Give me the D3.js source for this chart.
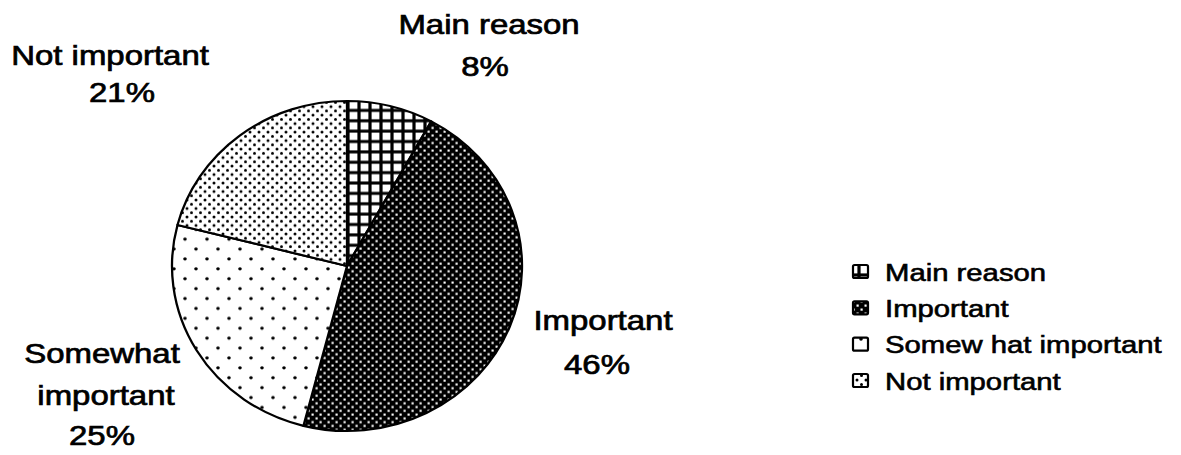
<!DOCTYPE html>
<html>
<head>
<meta charset="utf-8">
<script src="https://cdn.jsdelivr.net/npm/d3@7"></script>
<style>
  html, body { margin: 0; padding: 0; background: #fff; }
  svg { display: block; }
  text { font-family: "Liberation Sans", Arial, sans-serif; fill: #000; }
</style>
</head>
<body>
<svg id="chart" width="1181" height="455"></svg>
<script>
// ---- data ----
const categories = ["Main reason", "Important", "Somewhat important", "Not important"];
const values = [8, 46, 25, 21];
const sliceLabels = [["Main reason", "8%"], ["Important", "46%"], ["Somewhat", "important", "25%"], ["Not important", "21%"]];
const legendLabels = ["Main reason", "Important", "Somew hat important", "Not important"];
const patternIds = ["pGrid", "pDarkDots", "pSparseDots", "pDenseDots"];

// ---- layout ----
const cx = 347, cy = 266, R = 175, yScale = 0.943;
const SX = 1.22; // horizontal stretch of the scanned text

const svg = d3.select("#chart");
const defs = svg.append("defs");

// grid (white squares on black)
const g1 = defs.append("pattern").attr("id", "pGrid").attr("patternUnits", "userSpaceOnUse")
  .attr("width", 11).attr("height", 11).attr("x", 1).attr("y", 0);
g1.append("rect").attr("width", 11).attr("height", 11).attr("fill", "#000");
g1.append("rect").attr("x", 1.6).attr("y", 1.6).attr("width", 7.8).attr("height", 7.8).attr("fill", "#fff");

// black with white dots
const g2 = defs.append("pattern").attr("id", "pDarkDots").attr("patternUnits", "userSpaceOnUse")
  .attr("width", 8).attr("height", 8);
g2.append("rect").attr("width", 8).attr("height", 8).attr("fill", "#000");
g2.append("rect").attr("x", 0.5).attr("y", 0.5).attr("width", 2.2).attr("height", 2.2).attr("fill", "#fff");
g2.append("rect").attr("x", 4.5).attr("y", 4.5).attr("width", 2.2).attr("height", 2.2).attr("fill", "#fff");

// white with sparse black dots
const g3 = defs.append("pattern").attr("id", "pSparseDots").attr("patternUnits", "userSpaceOnUse")
  .attr("width", 22).attr("height", 21);
g3.append("rect").attr("width", 22).attr("height", 21).attr("fill", "#fff");
g3.append("circle").attr("cx", 3).attr("cy", 3).attr("r", 1.8).attr("fill", "#000");
g3.append("circle").attr("cx", 14).attr("cy", 13.5).attr("r", 1.8).attr("fill", "#000");

// white with dense black dots
const g4 = defs.append("pattern").attr("id", "pDenseDots").attr("patternUnits", "userSpaceOnUse")
  .attr("width", 9).attr("height", 9);
g4.append("rect").attr("width", 9).attr("height", 9).attr("fill", "#fff");
g4.append("circle").attr("cx", 2).attr("cy", 2).attr("r", 1.5).attr("fill", "#000");
g4.append("circle").attr("cx", 6.5).attr("cy", 6.5).attr("r", 1.5).attr("fill", "#000");

// ---- pie ----
const pie = d3.pie().sort(null).value(d => d).startAngle(0).endAngle(2 * Math.PI);
const arc = d3.arc().innerRadius(0).outerRadius(R);
const arcs = pie(values);

const pg = svg.append("g").attr("transform", `translate(${cx},${cy}) scale(1,${yScale})`);
pg.selectAll("path").data(arcs).join("path")
  .attr("d", arc)
  .attr("fill", (d, i) => `url(#${patternIds[i]})`)
  .attr("stroke", "#000")
  .attr("stroke-width", 2.3)
  .attr("stroke-linejoin", "round");

// ---- slice labels (one anchor per line) ----
const labelLines = [
  [{ x: 489, y: 34 }, { x: 485, y: 76 }],
  [{ x: 603, y: 330 }, { x: 597, y: 374 }],
  [{ x: 102, y: 363 }, { x: 106, y: 405 }, { x: 102, y: 445 }],
  [{ x: 110, y: 65 }, { x: 122, y: 102 }]
];
const fs = 27;
sliceLabels.forEach((lines, i) => {
  lines.forEach((t, j) => {
    const p = labelLines[i][j];
    svg.append("text")
      .attr("transform", `translate(${p.x},${p.y}) scale(${SX},1)`)
      .attr("text-anchor", "middle")
      .attr("font-size", fs)
      .attr("stroke", "#000").attr("stroke-width", 0.7)
      .text(t);
  });
});

// ---- legend ----
const legY = d3.scalePoint().domain(categories).range([272, 381]);
const lg = svg.append("g");
categories.forEach((c, i) => {
  const y = legY(c);
  lg.append("rect")
    .attr("x", 853).attr("y", y - 7).attr("width", 15).attr("height", 13)
    .attr("fill", `url(#${patternIds[i]})`)
    .attr("stroke", "#000").attr("stroke-width", 2.2).attr("rx", 1.5);
  lg.append("text")
    .attr("transform", `translate(885,${y + 8.5}) scale(${SX},1)`)
    .attr("font-size", 24)
    .attr("stroke", "#000").attr("stroke-width", 0.6)
    .text(legendLabels[i]);
});
</script>
</body>
</html>
